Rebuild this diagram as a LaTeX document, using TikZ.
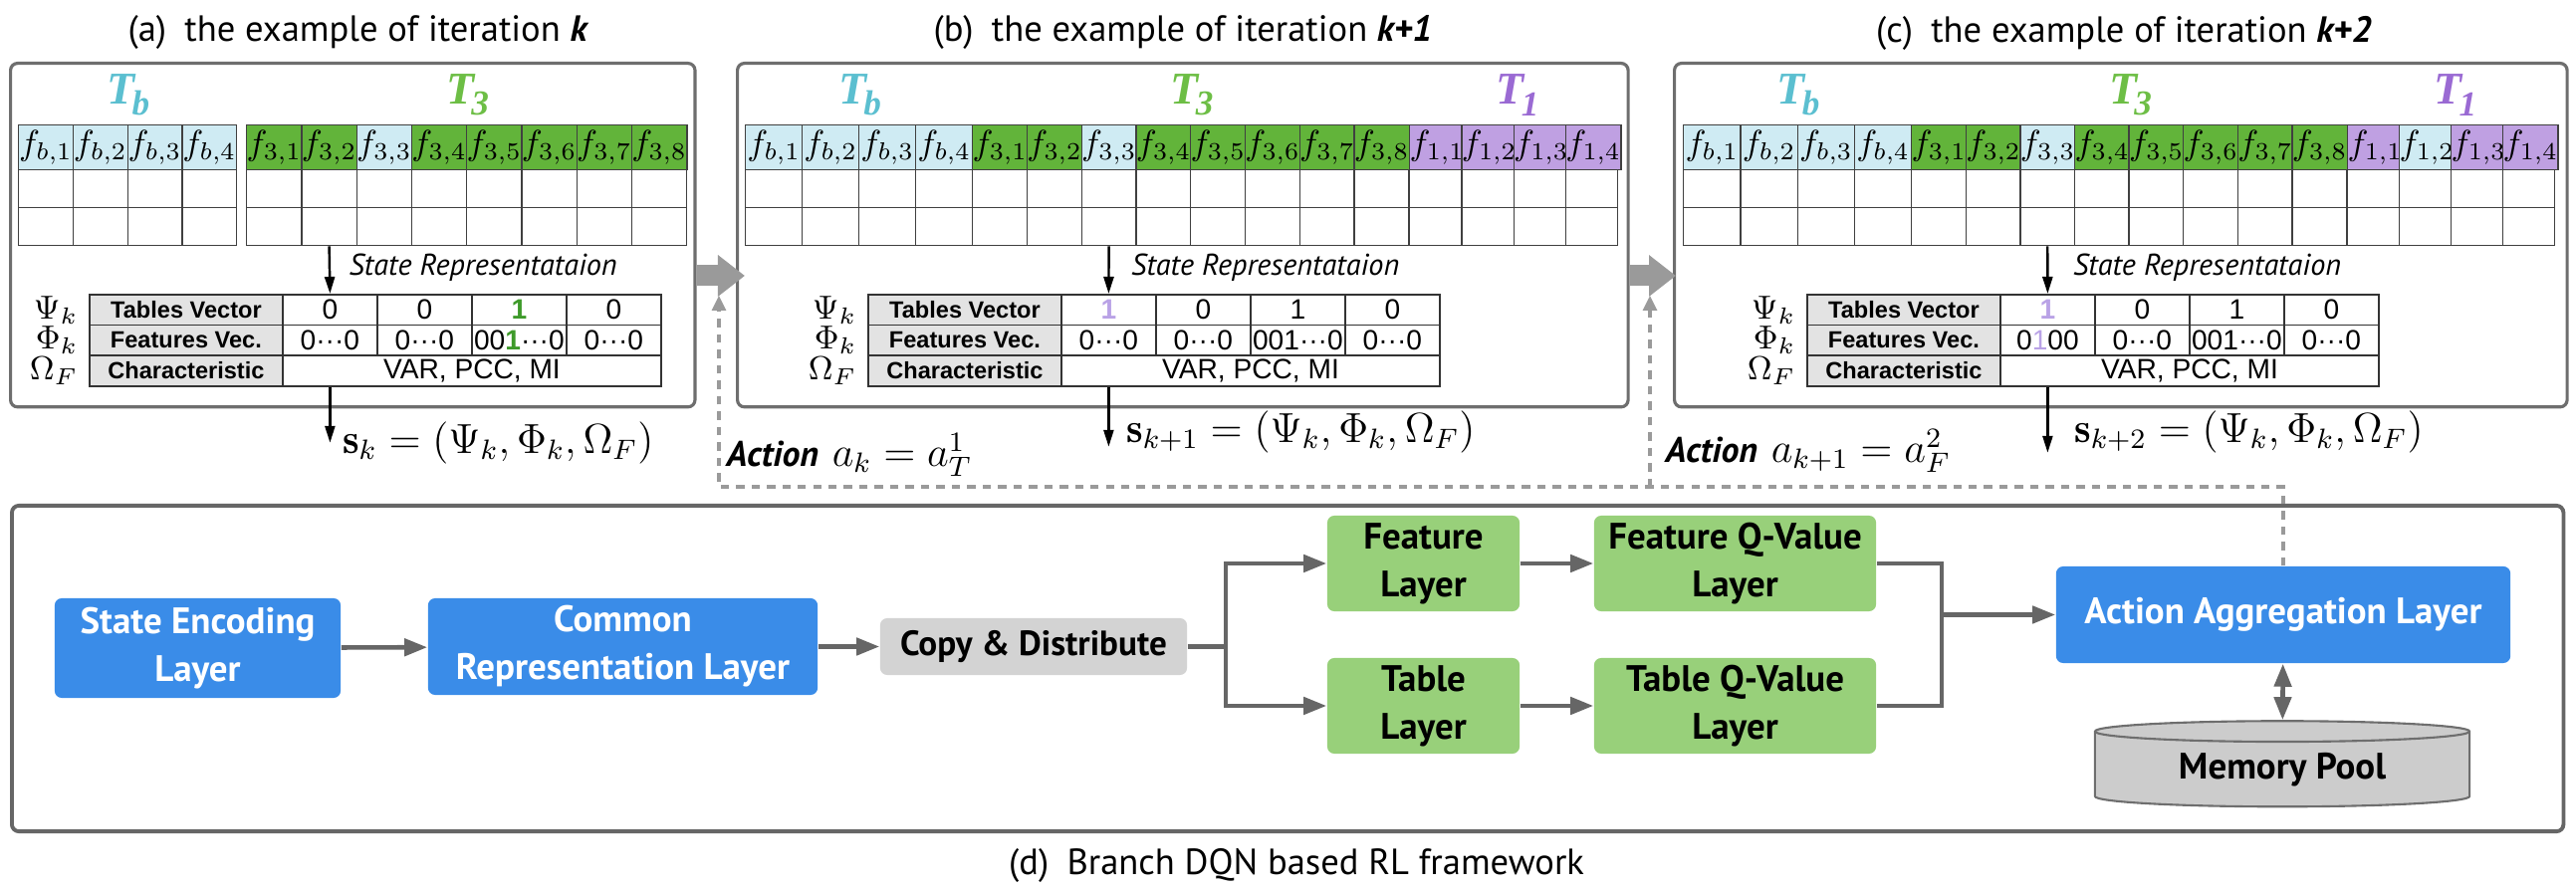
\documentclass[tikz,border=0pt]{standalone}
\usepackage{fix-cm}
\usepackage{fontspec}
\setsansfont{PT Sans}
\newfontfamily\tlabelfont{Liberation Serif}
\newfontfamily\tabfont{Liberation Sans}
\usetikzlibrary{arrows.meta,positioning,shapes.geometric,calc}

\definecolor{cellblue}{HTML}{CFEBF3}
\definecolor{cellgreen}{HTML}{62B43A}
\definecolor{cellpurple}{HTML}{BFA0E2}
\definecolor{tbcyan}{HTML}{5BBFD0}
\definecolor{tgreen}{HTML}{6DBE45}
\definecolor{tpurple}{HTML}{9A6AD3}
\definecolor{onegreen}{HTML}{3E9A2A}
\definecolor{onepurple}{HTML}{B9A2E6}
\definecolor{layerblue}{HTML}{3A8CE8}
\definecolor{layergreen}{HTML}{98D07A}
\definecolor{copygray}{HTML}{D3D3D3}
\definecolor{poolgray}{HTML}{CCCCCC}
\definecolor{labelgray}{HTML}{E3E3E3}
\definecolor{framegray}{HTML}{6E6E6E}
\definecolor{arrowgray}{HTML}{9A9A9A}
\definecolor{linkgray}{HTML}{666666}

\tikzset{
    panel/.style={draw=framegray, line width=0.9pt, rounded corners=2pt, anchor=north west, inner sep=0pt, minimum height=3.45cm},
    title/.style={font=\sffamily\fontsize{10.4}{12}\selectfont},
    hcell/.style={draw=black!75, line width=0.4pt, anchor=north west, inner sep=0pt, minimum height=0.45cm, font=\fontsize{10}{10}\selectfont},
    bcell/.style={draw=black!75, line width=0.4pt, anchor=north west, inner sep=0pt, minimum height=0.38cm},
    tlab/.style={inner sep=0pt, font=\fontsize{13}{13}\selectfont},
    labcell/.style={draw=black!80, fill=labelgray, line width=0.5pt, anchor=north west, inner sep=0pt, minimum width=1.94cm, minimum height=0.307cm, font=\tabfont\bfseries\fontsize{6.7}{7}\selectfont},
    valcell/.style={draw=black!80, line width=0.5pt, anchor=north west, inner sep=0pt, minimum width=0.95cm, minimum height=0.307cm, font=\tabfont\fontsize{8}{8}\selectfont},
    greek/.style={inner sep=0pt, font=\fontsize{9.5}{9.5}\selectfont},
    staterep/.style={anchor=west, inner sep=0pt, font=\sffamily\itshape\fontsize{8.6}{9}\selectfont},
    downarrow/.style={line width=0.7pt, -{Triangle[length=0.17cm,width=0.1cm]}},
    stateout/.style={anchor=west, inner sep=0pt, font=\fontsize{12}{12}\selectfont},
    action/.style={anchor=west, inner sep=0pt, font=\fontsize{12}{12}\selectfont},
    panelarrow/.style={draw=arrowgray, line width=0.21cm, -{Triangle[length=0.27cm,width=0.40cm]}},
    feedback/.style={draw=arrowgray, line width=0.9pt, dash pattern=on 2.4pt off 2pt, -{Triangle[length=0.15cm,width=0.14cm]}},
    fwbox/.style={draw=linkgray, line width=1.1pt, rounded corners=2pt, anchor=north west, inner sep=0pt},
    layer/.style={inner sep=0pt, align=center, rounded corners=2pt, font=\sffamily\bfseries\fontsize{10.5}{13.6}\selectfont},
    bluebox/.style={layer, fill=layerblue, text=white},
    greenbox/.style={layer, fill=layergreen, minimum height=0.96cm},
    graybox/.style={layer, fill=copygray},
    pool/.style={cylinder, shape border rotate=90, aspect=0.1, draw=framegray, line width=0.6pt, cylinder uses custom fill, cylinder body fill=poolgray, cylinder end fill=poolgray, minimum width=3.76cm, minimum height=0.86cm, inner sep=0pt, font=\sffamily\bfseries\fontsize{10.5}{12}\selectfont},
    link/.style={draw=linkgray, line width=1.3pt},
    flow/.style={link, -{Triangle[length=0.23cm,width=0.17cm]}},
    dflow/.style={link, {Triangle[length=0.23cm,width=0.17cm]}-{Triangle[length=0.23cm,width=0.17cm]}},
    caption/.style={font=\sffamily\fontsize{10.4}{12}\selectfont}
}

% feature block: name, left x, column width (cm), table index, header fills
\newcommand{\featrow}[5]{%
    \foreach \fc [count=\ci] in {#5} {
        \node[hcell, minimum width=#3cm, fill=\fc] (#1h\ci) at ({#2+(\ci-1)*#3*100},125) {$f_{#4,\ci}$};
        \node[bcell, minimum width=#3cm] (#1r\ci) at ({#2+(\ci-1)*#3*100},170) {};
        \node[bcell, minimum width=#3cm] (#1s\ci) at ({#2+(\ci-1)*#3*100},208) {};
    }%
}

% state table: name, left x, tables vector, features vector
\newcommand{\statetab}[4]{%
    \node[labcell] (#1lt) at (#2,295) {Tables Vector};
    \node[labcell] (#1lf) at (#2,325.7) {Features Vec.};
    \node[labcell] (#1lc) at (#2,356.3) {Characteristic};
    \foreach \cv [count=\ci] in {#3}
        \node[valcell] (#1t\ci) at ({#2+194+(\ci-1)*95},295) {\cv};
    \foreach \cv [count=\ci] in {#4}
        \node[valcell] (#1f\ci) at ({#2+194+(\ci-1)*95},325.7) {\cv};
    \node[valcell, minimum width=3.8cm] (#1c) at ({#2+194},356.3) {VAR, PCC, MI};
    \node[greek, left=0.1cm of #1lt.west] (#1psi) {$\Psi_k$};
    \node[greek, left=0.1cm of #1lf.west] (#1phi) {$\Phi_k$};
    \node[greek, left=0.1cm of #1lc.west] (#1omega) {$\Omega_F$};
}

\newcommand{\tname}[1]{{\tlabelfont\bfseries\itshape T\kern-0.06em\raisebox{-0.55ex}{\fontsize{10}{10}\selectfont #1}}}
\newcommand{\zdots}{0···0}

\begin{document}
\begin{tikzpicture}[x=0.01cm,y=-0.01cm]
    \useasboundingbox (0,0) rectangle (2587,895);

    % Panels of the three iterations
    \node[panel, minimum width=6.87cm] (pa) at (9,62) {};
    \node[panel, minimum width=8.94cm] (pb) at (739,62) {};
    \node[panel, minimum width=8.96cm] (pc) at (1680,62) {};
    \node[title] (ta) at (360,33) {(a)\enspace the example of iteration \textbf{\textit{k}}};
    \node[title] (tb) at (1188,33) {(b)\enspace the example of iteration \textbf{\textit{k+1}}};
    \node[title] (tc) at (2133,33) {(c)\enspace the example of iteration \textbf{\textit{k+2}}};

    % Feature tables
    \featrow{ab}{18}{0.5475}{b}{cellblue,cellblue,cellblue,cellblue}
    \featrow{a3}{247}{0.5525}{3}{cellgreen,cellgreen,cellblue,cellgreen,cellgreen,cellgreen,cellgreen,cellgreen}
    \featrow{bb}{748}{0.57}{b}{cellblue,cellblue,cellblue,cellblue}
    \featrow{b3}{976}{0.5475}{3}{cellgreen,cellgreen,cellblue,cellgreen,cellgreen,cellgreen,cellgreen,cellgreen}
    \featrow{b1}{1415}{0.5225}{1}{cellpurple,cellpurple,cellpurple,cellpurple}
    \featrow{cb}{1690}{0.5725}{b}{cellblue,cellblue,cellblue,cellblue}
    \featrow{c3}{1919}{0.546}{3}{cellgreen,cellgreen,cellblue,cellgreen,cellgreen,cellgreen,cellgreen,cellgreen}
    \featrow{c1}{2357}{0.52}{1}{cellpurple,cellblue,cellpurple,cellpurple}

    % Table names
    \node[tlab, text=tbcyan, above=0.08cm of abh2.north east] (aTb) {\tname{b}};
    \node[tlab, text=tgreen, above=0.08cm of a3h4.north east] (aT3) {\tname{3}};
    \node[tlab, text=tbcyan, above=0.08cm of bbh2.north east] (bTb) {\tname{b}};
    \node[tlab, text=tgreen, above=0.08cm of b3h4.north east] (bT3) {\tname{3}};
    \node[tlab, text=tpurple, above=0.08cm of b1h2.north east] (bT1) {\tname{1}};
    \node[tlab, text=tbcyan, above=0.08cm of cbh2.north east] (cTb) {\tname{b}};
    \node[tlab, text=tgreen, above=0.08cm of c3h4.north east] (cT3) {\tname{3}};
    \node[tlab, text=tpurple, above=0.08cm of c1h2.north east] (cT1) {\tname{1}};

    % State representation tables
    \statetab{a}{89}{0,0,{\textcolor{onegreen}{\bfseries 1}},0}{\zdots,\zdots,00{\textcolor{onegreen}{\bfseries 1}}···0,\zdots}
    \statetab{b}{871}{{\textcolor{onepurple}{\bfseries 1}},0,1,0}{\zdots,\zdots,001···0,\zdots}
    \statetab{c}{1814}{{\textcolor{onepurple}{\bfseries 1}},0,1,0}{0{\textcolor{onepurple}{1}}00,\zdots,001···0,\zdots}

    \draw[downarrow] (a3s2.south) -- (at1.north);
    \draw[downarrow] (b3s3.south) -- (bt1.north);
    \draw[downarrow] (c3s3.south) -- (ct1.north);
    \node[staterep] (arep) at ([xshift=0.19cm]$(a3s2.south)!0.45!(at1.north)$) {State Representataion};
    \node[staterep] (brep) at ([xshift=0.22cm]$(b3s3.south)!0.45!(bt1.north)$) {State Representataion};
    \node[staterep] (crep) at ([xshift=0.25cm]$(c3s3.south)!0.45!(ct1.north)$) {State Representataion};

    % States passed on
    \draw[downarrow] (at1 |- ac.south) -- ++(0,56) coordinate (aout);
    \draw[downarrow] (bt1 |- bc.south) -- ++(0,60) coordinate (bout);
    \draw[downarrow] (ct1 |- cc.south) -- ++(0,66) coordinate (cout);
    \node[stateout] (asl) at ([xshift=0.12cm]aout) {$\mathbf{s}_k=(\Psi_k,\Phi_k,\Omega_F)$};
    \node[stateout] (bsl) at ([xshift=0.17cm,yshift=0.15cm]bout) {$\mathbf{s}_{k+1}=(\Psi_k,\Phi_k,\Omega_F)$};
    \node[stateout] (csl) at ([xshift=0.26cm,yshift=0.21cm]cout) {$\mathbf{s}_{k+2}=(\Psi_k,\Phi_k,\Omega_F)$};

    % Iteration arrows
    \coordinate (midrow) at (0,277);
    \draw[panelarrow] (pa.east |- midrow) -- ($(pb.west |- midrow)+(9,0)$);
    \draw[panelarrow] (pb.east |- midrow) -- ($(pc.west |- midrow)+(3,0)$);

    % Branch DQN framework
    \node[fwbox, minimum width=25.61cm, minimum height=3.27cm] (fw) at (10,506) {};
    \node[bluebox, minimum width=2.87cm, minimum height=1.0cm] (enc) at (198.5,651) {State Encoding\\Layer};
    \node[bluebox, minimum width=3.91cm, minimum height=0.97cm] (common) at (625.5,649.5) {Common\\Representation Layer};
    \node[graybox, minimum width=3.08cm, minimum height=0.57cm, font=\sffamily\bfseries\fontsize{10}{12}\selectfont] (copy) at (1038,649.5) {Copy \& Distribute};
    \node[greenbox, minimum width=1.93cm] (feat) at (1429.5,566) {Feature\\Layer};
    \node[greenbox, minimum width=2.83cm] (featq) at (1742.5,566) {Feature Q-Value\\Layer};
    \node[greenbox, minimum width=1.93cm] (tabl) at (1429.5,709) {Table\\Layer};
    \node[greenbox, minimum width=2.83cm] (tablq) at (1742.5,709) {Table Q-Value\\Layer};
    \node[bluebox, minimum width=4.56cm, minimum height=0.97cm] (agg) at (2293,617.5) {Action Aggregation Layer};
    \node[pool] (pool) at (2292,773) {Memory Pool};

    \draw[flow] (enc) -- (common);
    \draw[flow] (common) -- (copy);
    \coordinate (split) at (1231,649.5);
    \draw[link] (copy) -- (split);
    \draw[flow] (split) |- (feat);
    \draw[flow] (split) |- (tabl);
    \draw[flow] (feat) -- (featq);
    \draw[flow] (tabl) -- (tablq);
    \coordinate (merge) at (1950,617.5);
    \draw[link] (featq) -| (merge);
    \draw[link] (tablq) -| (merge);
    \draw[flow] (merge) -- (agg);
    \draw[dflow] (agg) -- (pool);

    % Actions fed back
    \coordinate (fbrow) at (0,489);
    \coordinate (fba) at (722,297);
    \coordinate (fbb) at (1657,297);
    \draw[feedback] (agg.north) |- (fbrow -| fba) -- (fba);
    \draw[feedback] (fbrow -| fbb) -- (fbb);
    \node[action] (acta) at (729,457) {{\sffamily\bfseries\itshape\fontsize{10.2}{10}\selectfont Action} $a_k=a_T^1$};
    \node[action] (actb) at (1672,453) {{\sffamily\bfseries\itshape\fontsize{10.2}{10}\selectfont Action} $a_{k+1}=a_F^2$};

    \node[caption] (capd) at (1302,870) {(d)\enspace Branch DQN based RL framework};
\end{tikzpicture}
\end{document}
